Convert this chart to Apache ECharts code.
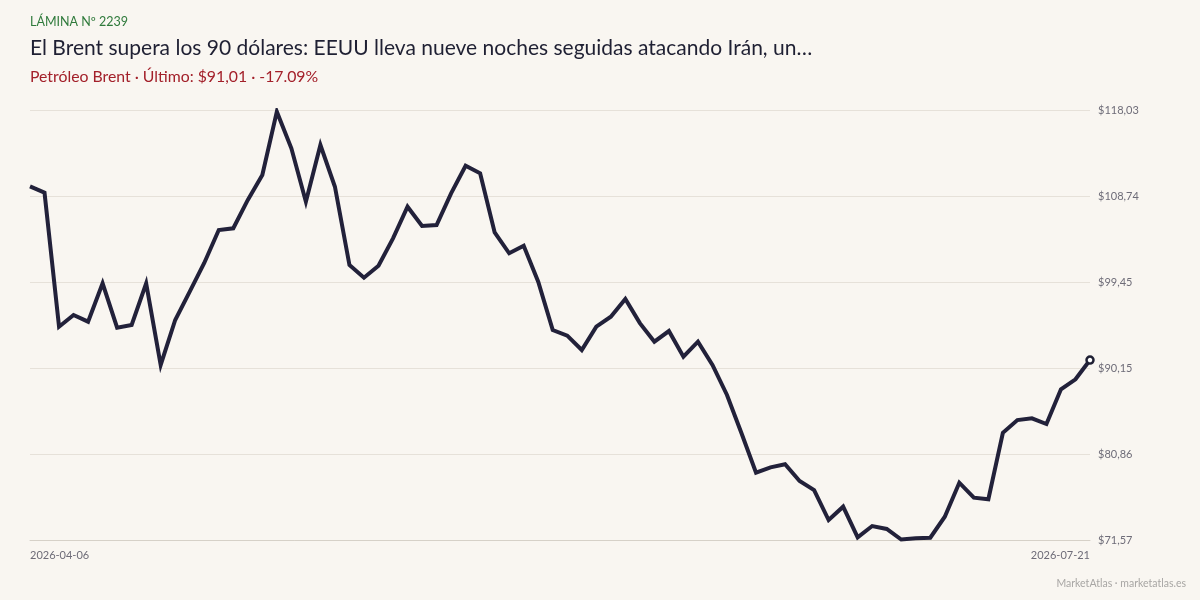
<!DOCTYPE html>
<html>
<head>
<meta charset="utf-8">
<script src="https://cdn.jsdelivr.net/npm/echarts@6/dist/echarts.min.js"></script>
<style>
  html, body { margin: 0; padding: 0; background: #f9f6f1; }
  #chart { width: 1200px; height: 600px; }
</style>
</head>
<body>
<div id="chart"></div>
<script>
// trading days, 2026-04-06 .. 2026-07-21
const dates = [
  '2026-04-06','2026-04-07','2026-04-08','2026-04-09','2026-04-10',
  '2026-04-13','2026-04-14','2026-04-15','2026-04-16','2026-04-17',
  '2026-04-20','2026-04-21','2026-04-22','2026-04-23','2026-04-24',
  '2026-04-27','2026-04-28','2026-04-29','2026-04-30','2026-05-01',
  '2026-05-04','2026-05-05','2026-05-06','2026-05-07','2026-05-08',
  '2026-05-11','2026-05-12','2026-05-13','2026-05-14','2026-05-15',
  '2026-05-18','2026-05-19','2026-05-20','2026-05-21','2026-05-22',
  '2026-05-26','2026-05-27','2026-05-28','2026-05-29',
  '2026-06-01','2026-06-02','2026-06-03','2026-06-04','2026-06-05',
  '2026-06-08','2026-06-09','2026-06-10','2026-06-11','2026-06-12',
  '2026-06-15','2026-06-16','2026-06-17','2026-06-18',
  '2026-06-22','2026-06-23','2026-06-24','2026-06-25','2026-06-26',
  '2026-06-29','2026-06-30','2026-07-01','2026-07-02',
  '2026-07-06','2026-07-07','2026-07-08','2026-07-09','2026-07-10',
  '2026-07-13','2026-07-14','2026-07-15','2026-07-16','2026-07-17',
  '2026-07-20','2026-07-21'
]

const prices = [
  109.77, 109.09, 94.61, 95.88, 95.16, 99.30, 94.51, 94.80, 99.30, 90.48,
  95.34, 98.40, 101.50, 105.06, 105.25, 108.31, 111.01, 117.85, 113.89, 108.12,
  114.25, 109.74, 101.28, 99.91, 101.21, 104.16, 107.58, 105.50, 105.60, 109.03,
  112.01, 111.19, 104.81, 102.55, 103.37, 99.48, 94.26, 93.65, 92.10, 94.62,
  95.70, 97.61, 95.00, 93.00, 94.15, 91.37, 93.00, 90.48, 87.24, 83.10,
  78.84, 79.42, 79.75, 77.94, 76.97, 73.73, 75.17, 71.86, 73.08, 72.76,
  71.62, 71.75, 71.82, 74.09, 77.76, 76.14, 75.97, 83.16, 84.53, 84.72,
  84.10, 87.85, 88.93, 91.01
]

const yMin = 71.57
const yMax = 118.03

const fmt = v => '$' + v.toFixed(2).replace('.', ',')

const chart = echarts.init(document.getElementById('chart'))

const lastIdx = prices.length - 1

chart.setOption({
  backgroundColor: '#f9f6f1',
  animation: false,
  textStyle: { fontFamily: 'Lato, "Noto Sans", sans-serif' },
  title: [
    {
      text: 'LÁMINA Nº 2239',
      left: 30, top: 15, padding: 0,
      textStyle: { color: '#2f7a3b', fontSize: 12.5, fontWeight: 'normal', fontFamily: 'Lato' }
    },
    {
      text: 'El Brent supera los 90 dólares: EEUU lleva nueve noches seguidas atacando Irán, un…',
      left: 30, top: 38, padding: 0,
      textStyle: { color: '#1f2033', fontSize: 21, fontWeight: 'normal', fontFamily: 'Lato' }
    },
    {
      text: 'Petróleo Brent · Último: $91,01 · -17.09%',
      left: 30, top: 69, padding: 0,
      textStyle: { color: '#a3202a', fontSize: 15.8, fontWeight: 'normal', fontFamily: 'Lato' }
    }
  ],
  graphic: [
    {
      type: 'text',
      right: 14, top: 578,
      style: { text: 'MarketAtlas · marketatlas.es', fill: '#a8a6a4', fontSize: 10.5, fontFamily: 'Lato' }
    }
  ],
  grid: { left: 30, right: 110, top: 110, bottom: 60 },
  xAxis: {
    type: 'category',
    data: dates,
    boundaryGap: false,
    axisLine: { show: true, lineStyle: { color: '#d6d1c8', width: 1 } },
    axisTick: { show: false },
    splitLine: { show: false },
    axisLabel: {
      color: '#6e6c78',
      fontSize: 11,
      margin: 10,
      interval: (i) => i === 0 || i === lastIdx,
      alignMaxLabel: 'right',
      alignMinLabel: 'left',
      showMinLabel: true,
      showMaxLabel: true
    }
  },
  yAxis: {
    type: 'value',
    position: 'right',
    min: yMin,
    max: yMax,
    interval: (yMax - yMin) / 5,
    axisLine: { show: false },
    axisTick: { show: false },
    splitLine: { lineStyle: { color: '#e6e1d9', width: 1 } },
    axisLabel: {
      color: '#6e6c78',
      fontSize: 11,
      margin: 8,
      formatter: v => fmt(v)
    }
  },
  series: [
    {
      type: 'line',
      data: prices.map((v, i) => i === lastIdx
        ? { value: v, symbol: 'circle', symbolSize: 7, itemStyle: { color: '#ffffff', borderColor: '#1f1f33', borderWidth: 2.5 } }
        : v),
      showSymbol: true,
      symbol: 'none',
      lineStyle: { color: '#22213a', width: 4, join: 'miter' },
      itemStyle: { color: '#22213a' },
      z: 3
    }
  ]
})
</script>
</body>
</html>
